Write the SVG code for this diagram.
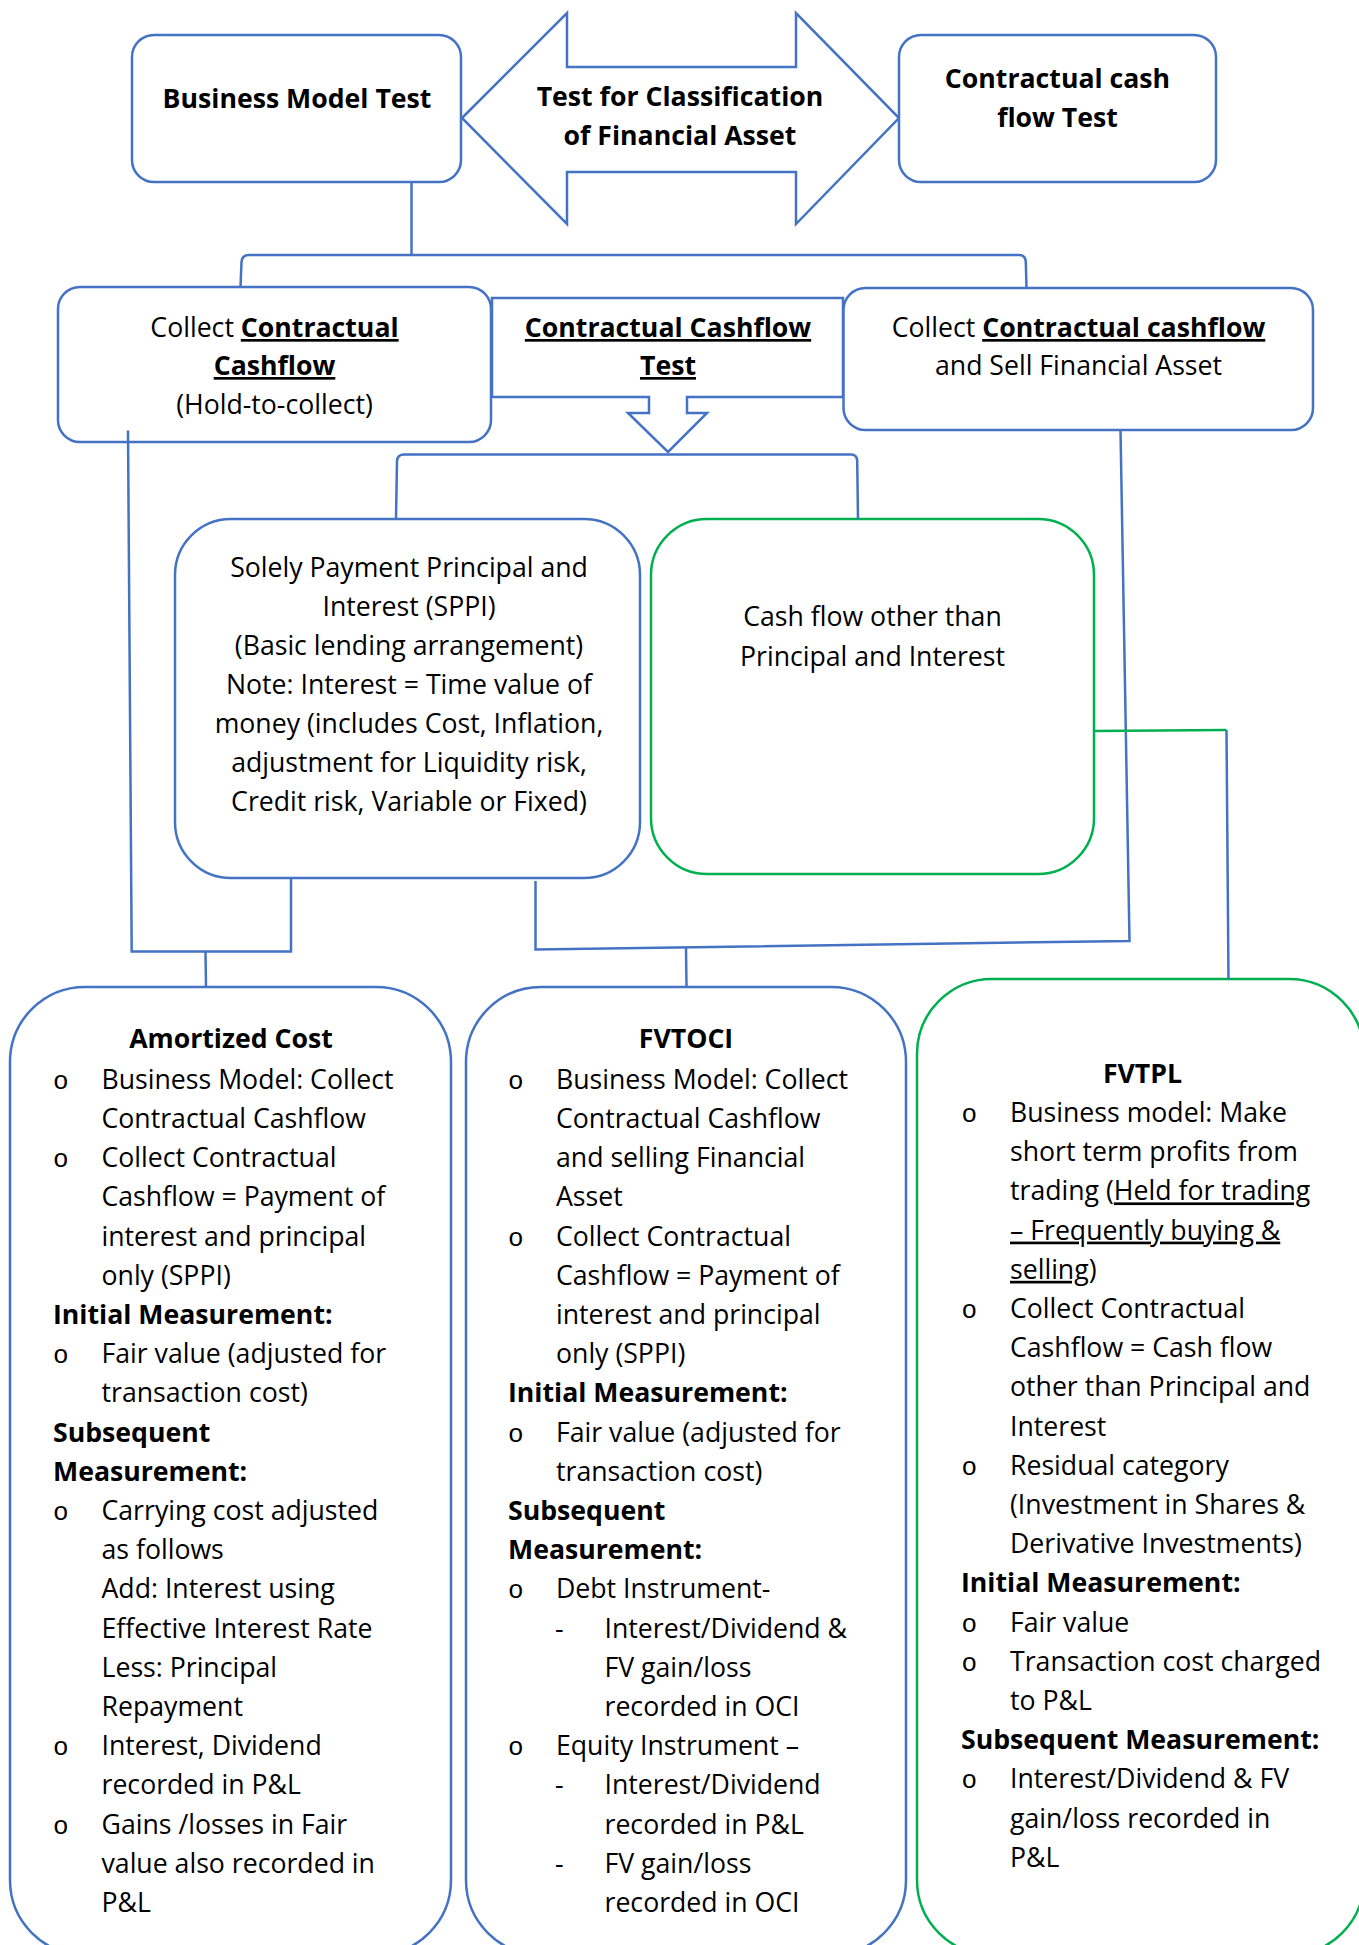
<svg xmlns="http://www.w3.org/2000/svg" width="1359" height="1945" viewBox="0 0 1359 1945">
  <style>
    .t { font-family: "Open Sans", "Liberation Sans", sans-serif; font-size: 26.67px; fill: #000; }
    .b { font-weight: 700; }
    .u { text-decoration: underline; }
    .c { text-anchor: middle; }
    .o { font-family: "Liberation Mono", "DejaVu Sans Mono", monospace; font-size: 26px; fill: #000; }
    .nb { fill: #fff; stroke: #4472C4; stroke-width: 2.5; }
    .ng { fill: #fff; stroke: #00B050; stroke-width: 2.5; }
    .lb { fill: none; stroke: #4472C4; stroke-width: 2.5; }
    .lg { fill: none; stroke: #00B050; stroke-width: 2.5; }
  </style>
  <rect width="1359" height="1945" fill="#fff"/>

  <!-- Contractual Cashflow Test: callout with down arrow (sits behind the two side boxes) -->
  <g id="cashflow-test">
    <polygon class="nb" points="492,298 843,298 843,397 687,397 687,413 707,413 668,452 628,413 649,413 649,397 492,397"/>
    <text class="t c b" x="668" y="337"><tspan class="u">Contractual Cashflow</tspan></text>
    <text class="t c b" x="668" y="375"><tspan class="u">Test</tspan></text>
  </g>

  <g id="business-model-test">
    <rect class="nb" x="132" y="35" width="329" height="147" rx="22"/>
    <text class="t c b" x="297" y="108">Business Model Test</text>
  </g>

  <g id="classification-test">
    <polygon class="nb" points="462,118 567,13 567,67 796,67 796,13 899,118 796,224 796,172 567,172 567,224"/>
    <text class="t c b" x="680" y="106">Test for Classification</text>
    <text class="t c b" x="680" y="144.5">of Financial Asset</text>
  </g>

  <g id="contractual-cash-flow-test">
    <rect class="nb" x="899" y="35" width="317" height="147" rx="22"/>
    <text class="t c b" x="1057.5" y="88">Contractual cash</text>
    <text class="t c b" x="1057.5" y="127">flow Test</text>
  </g>

  <g id="hold-to-collect">
    <rect class="nb" x="58" y="287" width="433" height="155" rx="22"/>
    <text class="t c" x="274.5" y="337">Collect <tspan class="b u">Contractual</tspan></text>
    <text class="t c b" x="274.5" y="375"><tspan class="u">Cashflow</tspan></text>
    <text class="t c" x="274.5" y="413.5">(Hold-to-collect)</text>
  </g>

  <g id="collect-and-sell">
    <rect class="nb" x="843.5" y="288" width="469.5" height="142" rx="22"/>
    <text class="t c" x="1078.5" y="337">Collect <tspan class="b u">Contractual cashflow</tspan></text>
    <text class="t c" x="1078.5" y="375">and Sell Financial Asset</text>
  </g>

  <g id="sppi">
    <rect class="nb" x="175" y="519" width="465" height="359" rx="56"/>
    <text class="t c" x="409" y="576.5">Solely Payment Principal and</text>
    <text class="t c" x="409" y="615.6">Interest (SPPI)</text>
    <text class="t c" x="409" y="654.7">(Basic lending arrangement)</text>
    <text class="t c" x="409" y="693.8">Note: Interest = Time value of</text>
    <text class="t c" x="409" y="732.9">money (includes Cost, Inflation,</text>
    <text class="t c" x="409" y="772">adjustment for Liquidity risk,</text>
    <text class="t c" x="409" y="811.1">Credit risk, Variable or Fixed)</text>
  </g>

  <g id="non-sppi">
    <rect class="ng" x="651" y="519" width="443" height="355" rx="56"/>
    <text class="t c" x="872.5" y="626">Cash flow other than</text>
    <text class="t c" x="872.5" y="665.5">Principal and Interest</text>
  </g>

  <g id="amortized-cost">
    <rect class="nb" x="10" y="987" width="441" height="968" rx="75"/>
    <text class="t c b" x="231" y="1048">Amortized Cost</text>
    <text class="o"><tspan x="53" y="1088.8">o</tspan><tspan x="53" y="1167.2">o</tspan><tspan x="53" y="1363.2">o</tspan><tspan x="53" y="1520">o</tspan><tspan x="53" y="1755.2">o</tspan><tspan x="53" y="1833.6">o</tspan></text>
    <text class="t">
      <tspan x="101.5" y="1088.8">Business Model: Collect</tspan>
      <tspan x="101.5" y="1128">Contractual Cashflow</tspan>
      <tspan x="101.5" y="1167.2">Collect Contractual</tspan>
      <tspan x="101.5" y="1206.4">Cashflow = Payment of</tspan>
      <tspan x="101.5" y="1245.6">interest and principal</tspan>
      <tspan x="101.5" y="1284.8">only (SPPI)</tspan>
      <tspan class="b" x="53" y="1324">Initial Measurement:</tspan>
      <tspan x="101.5" y="1363.2">Fair value (adjusted for</tspan>
      <tspan x="101.5" y="1402.4">transaction cost)</tspan>
      <tspan class="b" x="53" y="1441.6">Subsequent</tspan>
      <tspan class="b" x="53" y="1480.8">Measurement:</tspan>
      <tspan x="101.5" y="1520">Carrying cost adjusted</tspan>
      <tspan x="101.5" y="1559.2">as follows</tspan>
      <tspan x="101.5" y="1598.4">Add: Interest using</tspan>
      <tspan x="101.5" y="1637.6">Effective Interest Rate</tspan>
      <tspan x="101.5" y="1676.8">Less: Principal</tspan>
      <tspan x="101.5" y="1716">Repayment</tspan>
      <tspan x="101.5" y="1755.2">Interest, Dividend</tspan>
      <tspan x="101.5" y="1794.4">recorded in P&amp;L</tspan>
      <tspan x="101.5" y="1833.6">Gains /losses in Fair</tspan>
      <tspan x="101.5" y="1872.8">value also recorded in</tspan>
      <tspan x="101.5" y="1912">P&amp;L</tspan>
    </text>
  </g>

  <g id="fvtoci">
    <rect class="nb" x="466" y="987" width="440" height="968" rx="75"/>
    <text class="t c b" x="686" y="1048">FVTOCI</text>
    <text class="o"><tspan x="508" y="1088.8">o</tspan><tspan x="508" y="1245.6">o</tspan><tspan x="508" y="1441.6">o</tspan><tspan x="508" y="1598.4">o</tspan><tspan x="508" y="1755.2">o</tspan></text>
    <text class="t">
      <tspan x="556" y="1088.8">Business Model: Collect</tspan>
      <tspan x="556" y="1128">Contractual Cashflow</tspan>
      <tspan x="556" y="1167.2">and selling Financial</tspan>
      <tspan x="556" y="1206.4">Asset</tspan>
      <tspan x="556" y="1245.6">Collect Contractual</tspan>
      <tspan x="556" y="1284.8">Cashflow = Payment of</tspan>
      <tspan x="556" y="1324">interest and principal</tspan>
      <tspan x="556" y="1363.2">only (SPPI)</tspan>
      <tspan class="b" x="508" y="1402.4">Initial Measurement:</tspan>
      <tspan x="556" y="1441.6">Fair value (adjusted for</tspan>
      <tspan x="556" y="1480.8">transaction cost)</tspan>
      <tspan class="b" x="508" y="1520">Subsequent</tspan>
      <tspan class="b" x="508" y="1559.2">Measurement:</tspan>
      <tspan x="556" y="1598.4">Debt Instrument-</tspan>
      <tspan x="555" y="1637.6">-</tspan>
      <tspan x="604.5" y="1637.6">Interest/Dividend &amp;</tspan>
      <tspan x="604.5" y="1676.8">FV gain/loss</tspan>
      <tspan x="604.5" y="1716">recorded in OCI</tspan>
      <tspan x="556" y="1755.2">Equity Instrument –</tspan>
      <tspan x="555" y="1794.4">-</tspan>
      <tspan x="604.5" y="1794.4">Interest/Dividend</tspan>
      <tspan x="604.5" y="1833.6">recorded in P&amp;L</tspan>
      <tspan x="555" y="1872.8">-</tspan>
      <tspan x="604.5" y="1872.8">FV gain/loss</tspan>
      <tspan x="604.5" y="1912">recorded in OCI</tspan>
    </text>
  </g>

  <g id="fvtpl">
    <rect class="ng" x="917" y="979" width="447" height="976" rx="75"/>
    <text class="t c b" x="1142.5" y="1082.5">FVTPL</text>
    <text class="o"><tspan x="961.5" y="1122">o</tspan><tspan x="961.5" y="1318">o</tspan><tspan x="961.5" y="1474.8">o</tspan><tspan x="961.5" y="1631.6">o</tspan><tspan x="961.5" y="1670.8">o</tspan><tspan x="961.5" y="1788.4">o</tspan></text>
    <text class="t">
      <tspan x="1010" y="1122">Business model: Make</tspan>
      <tspan x="1010" y="1161.2">short term profits from</tspan>
      <tspan x="1010" y="1200.4">trading (<tspan class="u">Held for trading</tspan></tspan>
      <tspan x="1010" y="1239.6" class="u">– Frequently buying &amp;</tspan>
      <tspan x="1010" y="1278.8"><tspan class="u">selling</tspan>)</tspan>
      <tspan x="1010" y="1318">Collect Contractual</tspan>
      <tspan x="1010" y="1357.2">Cashflow = Cash flow</tspan>
      <tspan x="1010" y="1396.4">other than Principal and</tspan>
      <tspan x="1010" y="1435.6">Interest</tspan>
      <tspan x="1010" y="1474.8">Residual category</tspan>
      <tspan x="1010" y="1514">(Investment in Shares &amp;</tspan>
      <tspan x="1010" y="1553.2">Derivative Investments)</tspan>
      <tspan class="b" x="961" y="1592.4">Initial Measurement:</tspan>
      <tspan x="1010" y="1631.6">Fair value</tspan>
      <tspan x="1010" y="1670.8">Transaction cost charged</tspan>
      <tspan x="1010" y="1710">to P&amp;L</tspan>
      <tspan class="b" x="961" y="1749.2">Subsequent Measurement:</tspan>
      <tspan x="1010" y="1788.4">Interest/Dividend &amp; FV</tspan>
      <tspan x="1010" y="1827.6">gain/loss recorded in</tspan>
      <tspan x="1010" y="1866.8">P&amp;L</tspan>
    </text>
  </g>

  <!-- connectors -->
  <g id="connectors">
    <!-- business model test fans out to the two business models -->
    <path class="lb" d="M411.5,182 L411.5,255"/>
    <path class="lb" d="M240.5,287 L241.5,262 Q242,255 249,255 L1019,255 Q1025.5,255 1025.8,262 L1026.5,287"/>
    <!-- cash flow test fans out to SPPI / non-SPPI -->
    <path class="lb" d="M396,519 L397,461 Q397.5,454.5 404,454.5 L851,454.5 Q857,454.5 857.2,461 L858,519"/>
    <!-- hold-to-collect + SPPI to amortized cost -->
    <path class="lb" d="M128,430.5 L131.7,951.5 L291,951.5 L291,878"/>
    <path class="lb" d="M205.5,951.5 L206,987"/>
    <!-- collect-and-sell + SPPI to FVTOCI -->
    <path class="lb" d="M1120.5,430 L1129.5,941 L535.5,949.5 L535.5,881"/>
    <path class="lb" d="M686,948 L686.5,987"/>
    <!-- non-SPPI to FVTPL -->
    <path class="lg" d="M1094,731 L1226.5,730"/>
    <path class="lb" d="M1226.5,730 L1228.5,979"/>
  </g>
</svg>
